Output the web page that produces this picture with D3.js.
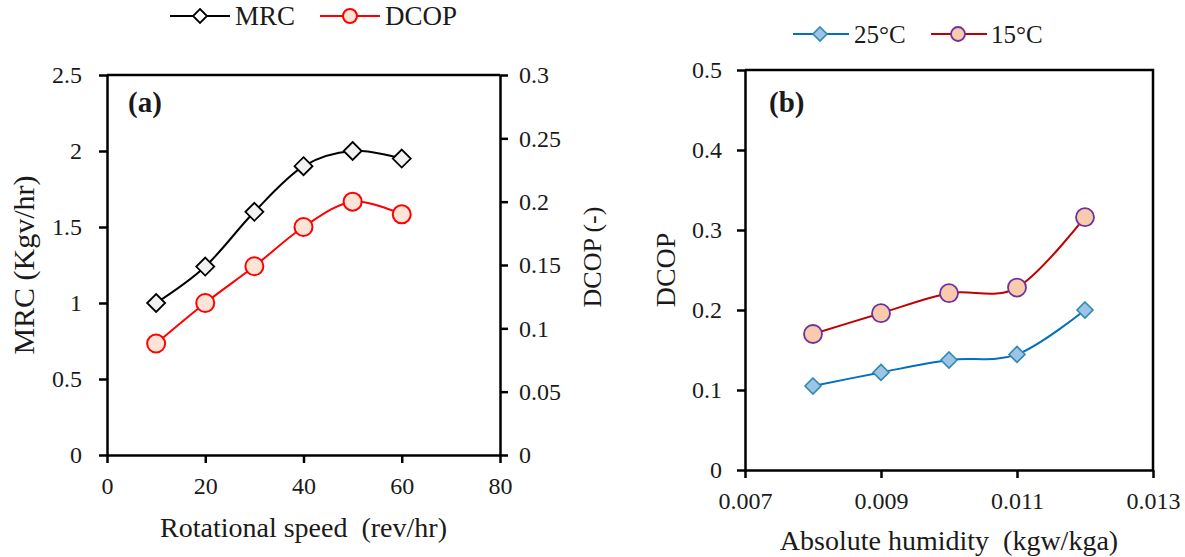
<!DOCTYPE html>
<html>
<head>
<meta charset="utf-8">
<script src="https://cdn.jsdelivr.net/npm/d3@7"></script>
<style>
  body { margin: 0; background: #fff; }
  svg text { font-family: "Liberation Serif", "DejaVu Serif", serif; fill: #1a1a1a; white-space: pre; }
  .axis path, .axis line { stroke: #000; }
</style>
</head>
<body>
<div class="canvas"></div>
<script>
// panel (a) data
const speed = [10, 20, 30, 40, 50, 60];
const mrc = [1.0, 1.24, 1.60, 1.90, 2.0, 1.95];
const dcopA = [0.088, 0.12, 0.149, 0.18, 0.2, 0.19];

// panel (b) data
const humidity = [0.008, 0.009, 0.010, 0.011, 0.012];
const dcop25 = [0.105, 0.122, 0.1375, 0.1445, 0.2];
const dcop15 = [0.17, 0.196, 0.221, 0.228, 0.316];

// tick labels
const xTicksA = [0, 20, 40, 60, 80];
const yTicksA = [0, 0.5, 1, 1.5, 2, 2.5];
const y2TicksA = [0, 0.05, 0.1, 0.15, 0.2, 0.25, 0.3];
const xTicksB = [0.007, 0.009, 0.011, 0.013];
const yTicksB = [0, 0.1, 0.2, 0.3, 0.4, 0.5];

const svg = d3.select('.canvas')
    .append('svg')
    .attr('width', 1185)
    .attr('height', 557);

const smooth = d3.curveCardinal.tension(0);

const styleAxis = (g, w) => {
    g.attr('class', 'axis').attr('font-family', null);
    g.selectAll('path').attr('stroke-width', w);
    g.selectAll('line').attr('stroke-width', w);
    g.selectAll('text').style('font-size', '24px');
};

const diamond = (s) => `M0,${-s}L${s},0L0,${s}L${-s},0Z`;

// ---------- panel (a) ----------
const a = {left: 107, right: 500, top: 75, bottom: 455};

const xA = d3.scaleLinear().domain([0, 80]).range([a.left, a.right]);
const yA = d3.scaleLinear().domain([0, 2.5]).range([a.bottom, a.top]);
const y2A = d3.scaleLinear().domain([0, 0.3]).range([a.bottom, a.top]);

// top border
svg.append('line')
    .attr('x1', a.left).attr('x2', a.right)
    .attr('y1', a.top).attr('y2', a.top)
    .attr('stroke', '#000').attr('stroke-width', 2.5);

svg.append('g')
    .attr('transform', `translate(0, ${a.bottom})`)
    .call(d3.axisBottom(xA).tickValues(xTicksA).tickSize(8).tickSizeOuter(0).tickPadding(14))
    .call(g => styleAxis(g, 2.5));

svg.append('g')
    .attr('transform', `translate(${a.left}, 0)`)
    .call(d3.axisLeft(yA).tickValues(yTicksA).tickSize(8).tickSizeOuter(0).tickPadding(17)
        .tickFormat(d => d))
    .call(g => styleAxis(g, 2.5));

svg.append('g')
    .attr('transform', `translate(${a.right}, 0)`)
    .call(d3.axisRight(y2A).tickValues(y2TicksA).tickSize(8).tickSizeOuter(0).tickPadding(11)
        .tickFormat(d => d))
    .call(g => styleAxis(g, 2.5));

const lineMrc = d3.line()
    .x((d, i) => xA(speed[i]))
    .y(d => yA(d))
    .curve(smooth);

const lineDcopA = d3.line()
    .x((d, i) => xA(speed[i]))
    .y(d => y2A(d))
    .curve(smooth);

svg.append('path').datum(mrc)
    .attr('fill', 'none').attr('stroke', '#000').attr('stroke-width', 2)
    .attr('d', lineMrc);

svg.append('path').datum(dcopA)
    .attr('fill', 'none').attr('stroke', '#ff0000').attr('stroke-width', 2)
    .attr('d', lineDcopA);

svg.append('g').selectAll('path')
    .data(mrc).enter().append('path')
    .attr('transform', (d, i) => `translate(${xA(speed[i])}, ${yA(d)})`)
    .attr('d', diamond(9))
    .attr('fill', '#f2f2f2').attr('stroke', '#000').attr('stroke-width', 1.8);

svg.append('g').selectAll('circle')
    .data(dcopA).enter().append('circle')
    .attr('cx', (d, i) => xA(speed[i]))
    .attr('cy', d => y2A(d))
    .attr('r', 9)
    .attr('fill', '#fce4d6').attr('stroke', '#ff0000').attr('stroke-width', 2);

svg.append('text')
    .attr('x', 128).attr('y', 112)
    .style('font-size', '29px').style('font-weight', 'bold')
    .text('(a)');

svg.append('text')
    .attr('x', (a.left + a.right) / 2).attr('y', 537)
    .attr('text-anchor', 'middle')
    .style('font-size', '28px')
    .text('Rotational speed  (rev/hr)');

svg.append('text')
    .attr('transform', `translate(34, ${(a.top + a.bottom) / 2}) rotate(-90)`)
    .attr('text-anchor', 'middle')
    .style('font-size', '30px')
    .text('MRC (Kgv/hr)');

svg.append('text')
    .attr('transform', `translate(601, ${(a.top + a.bottom) / 2 - 8}) rotate(-90)`)
    .attr('text-anchor', 'middle')
    .style('font-size', '26px')
    .text('DCOP (-)');

// legend (a)
const legA = svg.append('g');
legA.append('line').attr('x1', 170).attr('x2', 230).attr('y1', 16).attr('y2', 16)
    .attr('stroke', '#000').attr('stroke-width', 2);
legA.append('path').attr('transform', 'translate(200, 16)').attr('d', diamond(7))
    .attr('fill', '#fff').attr('stroke', '#000').attr('stroke-width', 1.8);
legA.append('text').attr('x', 235).attr('y', 25).style('font-size', '27px').text('MRC');
legA.append('line').attr('x1', 320).attr('x2', 380).attr('y1', 16).attr('y2', 16)
    .attr('stroke', '#ff0000').attr('stroke-width', 2);
legA.append('circle').attr('cx', 350).attr('cy', 16).attr('r', 7)
    .attr('fill', '#fce4d6').attr('stroke', '#ff0000').attr('stroke-width', 2);
legA.append('text').attr('x', 385).attr('y', 25).style('font-size', '27px').text('DCOP');

// ---------- panel (b) ----------
const b = {left: 745, right: 1153, top: 70, bottom: 470};

const xB = d3.scaleLinear().domain([0.007, 0.013]).range([b.left, b.right]);
const yB = d3.scaleLinear().domain([0, 0.5]).range([b.bottom, b.top]);

// top and right border
svg.append('path')
    .attr('d', `M${b.left},${b.top}H${b.right}V${b.bottom}`)
    .attr('fill', 'none').attr('stroke', '#000').attr('stroke-width', 2.5);

svg.append('g')
    .attr('transform', `translate(0, ${b.bottom})`)
    .call(d3.axisBottom(xB).tickValues(xTicksB).tickSize(8).tickSizeOuter(0).tickPadding(14)
        .tickFormat(d3.format('.3f')))
    .call(g => styleAxis(g, 2.5));

svg.append('g')
    .attr('transform', `translate(${b.left}, 0)`)
    .call(d3.axisLeft(yB).tickValues(yTicksB).tickSize(8).tickSizeOuter(0).tickPadding(15)
        .tickFormat(d => d))
    .call(g => styleAxis(g, 2.5));

const lineB = d3.line()
    .x((d, i) => xB(humidity[i]))
    .y(d => yB(d))
    .curve(smooth);

svg.append('path').datum(dcop25)
    .attr('fill', 'none').attr('stroke', '#0070c0').attr('stroke-width', 2)
    .attr('d', lineB);

svg.append('path').datum(dcop15)
    .attr('fill', 'none').attr('stroke', '#c00000').attr('stroke-width', 2)
    .attr('d', lineB);

svg.append('g').selectAll('path')
    .data(dcop25).enter().append('path')
    .attr('transform', (d, i) => `translate(${xB(humidity[i])}, ${yB(d)})`)
    .attr('d', diamond(8))
    .attr('fill', '#9dc3e6').attr('stroke', '#2e8bb0').attr('stroke-width', 1.6);

svg.append('g').selectAll('circle')
    .data(dcop15).enter().append('circle')
    .attr('cx', (d, i) => xB(humidity[i]))
    .attr('cy', d => yB(d))
    .attr('r', 9)
    .attr('fill', '#f8cbad').attr('stroke', '#7030a0').attr('stroke-width', 1.8);

svg.append('text')
    .attr('x', 769).attr('y', 112)
    .style('font-size', '29px').style('font-weight', 'bold')
    .text('(b)');

svg.append('text')
    .attr('x', (b.left + b.right) / 2).attr('y', 550)
    .attr('text-anchor', 'middle')
    .style('font-size', '28px')
    .text('Absolute humidity  (kgw/kga)');

svg.append('text')
    .attr('transform', `translate(675, ${(b.top + b.bottom) / 2}) rotate(-90)`)
    .attr('text-anchor', 'middle')
    .style('font-size', '28px')
    .text('DCOP');

// legend (b)
const legB = svg.append('g');
legB.append('line').attr('x1', 793).attr('x2', 849).attr('y1', 34).attr('y2', 34)
    .attr('stroke', '#0070c0').attr('stroke-width', 2);
legB.append('path').attr('transform', 'translate(820, 34)').attr('d', diamond(7))
    .attr('fill', '#9dc3e6').attr('stroke', '#2e8bb0').attr('stroke-width', 1.6);
legB.append('text').attr('x', 854).attr('y', 43).style('font-size', '25px').text('25°C');
legB.append('line').attr('x1', 931).attr('x2', 987).attr('y1', 34).attr('y2', 34)
    .attr('stroke', '#c00000').attr('stroke-width', 2);
legB.append('circle').attr('cx', 958).attr('cy', 34).attr('r', 7)
    .attr('fill', '#f8cbad').attr('stroke', '#7030a0').attr('stroke-width', 1.8);
legB.append('text').attr('x', 991).attr('y', 43).style('font-size', '25px').text('15°C');
</script>
</body>
</html>
